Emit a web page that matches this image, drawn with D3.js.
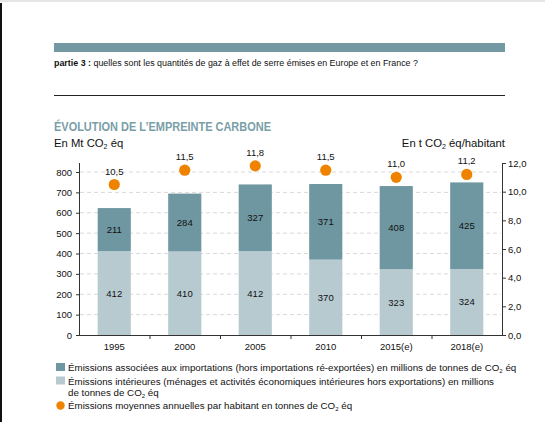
<!DOCTYPE html>
<html>
<head>
<meta charset="utf-8">
<script src="https://cdn.jsdelivr.net/npm/d3@7"></script>
<style>
  html, body { margin: 0; padding: 0; background: #fff; }
  svg { display: block; font-family: "Liberation Sans", Arial, sans-serif; }
</style>
</head>
<body>
<div id="chart"></div>
<script>
const years = ["1995", "2000", "2005", "2010", "2015(e)", "2018(e)"];
const domestic = [412, 410, 412, 370, 323, 324];
const imports = [211, 284, 327, 371, 408, 425];
const perCapita = [10.5, 11.5, 11.8, 11.5, 11.0, 11.2];
const leftTicks = [0, 100, 200, 300, 400, 500, 600, 700, 800];
const rightTicks = [0, 2, 4, 6, 8, 10, 12];

const W = 545, H = 422;
const C = { dark: "#6f97a1", light: "#b7cad0", orange: "#ef8300", title: "#7a9ea8", grid: "#d9d9d9" };
const fmt = v => v.toFixed(1).replace(".", ",");

const svg = d3.select("#chart").append("svg")
    .attr("width", W).attr("height", H)
    .attr("viewBox", [0, 0, W, H]);

// page edge
svg.append("rect").attr("x", 0).attr("y", 0).attr("width", W).attr("height", 2).attr("fill", "#e6e6e6");
svg.append("rect").attr("x", 0).attr("y", 3).attr("width", 2).attr("height", H - 3).attr("fill", "#111");

// header band
svg.append("rect").attr("x", 54).attr("y", 43).attr("width", 451).attr("height", 9).attr("fill", "#7399a3");
const head = svg.append("text").attr("x", 54).attr("y", 66).attr("font-size", 8.9).attr("fill", "#111");
head.append("tspan").attr("font-weight", "bold").text("partie 3 : ");
head.append("tspan").text("quelles sont les quantités de gaz à effet de serre émises en Europe et en France ?");
svg.append("line").attr("x1", 54).attr("x2", 505).attr("y1", 95.5).attr("y2", 95.5).attr("stroke", "#222").attr("stroke-width", 1);

// title
svg.append("text").attr("x", 54).attr("y", 131).attr("font-size", 12).attr("font-weight", "bold")
    .attr("textLength", 217).attr("lengthAdjust", "spacingAndGlyphs")
    .attr("fill", C.title).text("ÉVOLUTION DE L’EMPREINTE CARBONE");

function co2(sel, before, after) {
    sel.append("tspan").text(before + "CO");
    sel.append("tspan").attr("font-size", "0.62em").attr("dy", 2).text("2");
    sel.append("tspan").attr("dy", -2).text(after);
    return sel;
}
co2(svg.append("text").attr("x", 54).attr("y", 147).attr("font-size", 11.3).attr("fill", "#111"), "En Mt ", " éq");
co2(svg.append("text").attr("x", 505).attr("y", 147).attr("font-size", 11.3).attr("fill", "#111")
    .attr("text-anchor", "end"), "En t ", " éq/habitant");

// scales
const x = d3.scaleBand().domain(years).range([79, 502]).paddingInner(0.53).paddingOuter(0.265);
const band = d3.scaleBand().domain(years).range([79, 502]);
const y = d3.scaleLinear().domain([0, 800]).range([335, 172]);
const yR = d3.scaleLinear().domain([0, 12]).range([335, 163]);

// grid
svg.append("g").selectAll("line").data(leftTicks.filter(d => d > 0)).join("line")
    .attr("x1", 80).attr("x2", 501)
    .attr("y1", d => y(d)).attr("y2", d => y(d))
    .attr("stroke", C.grid).attr("stroke-dasharray", "4,3");

// bars
svg.append("g").selectAll("rect").data(years).join("rect")
    .attr("x", d => x(d)).attr("width", x.bandwidth())
    .attr("y", (d, i) => y(domestic[i])).attr("height", (d, i) => y(0) - y(domestic[i]))
    .attr("fill", C.light);
svg.append("g").selectAll("rect").data(years).join("rect")
    .attr("x", d => x(d)).attr("width", x.bandwidth())
    .attr("y", (d, i) => y(domestic[i] + imports[i])).attr("height", (d, i) => y(domestic[i]) - y(domestic[i] + imports[i]))
    .attr("fill", C.dark);

// bar values
const vals = svg.append("g").attr("font-size", 9.5).attr("fill", "#111").attr("text-anchor", "middle");
vals.selectAll(".dom").data(years).join("text")
    .attr("x", d => x(d) + x.bandwidth() / 2)
    .attr("y", (d, i) => y(domestic[i] / 2) + 3.5)
    .text((d, i) => domestic[i]);
vals.selectAll(".imp").data(years).join("text")
    .attr("x", d => x(d) + x.bandwidth() / 2)
    .attr("y", (d, i) => y(domestic[i] + imports[i] / 2) + 3.5)
    .text((d, i) => imports[i]);

// per capita dots
svg.append("g").selectAll("circle").data(years).join("circle")
    .attr("cx", d => x(d) + x.bandwidth() / 2)
    .attr("cy", (d, i) => yR(perCapita[i]))
    .attr("r", 5.6).attr("fill", C.orange);
vals.selectAll(".pc").data(years).join("text")
    .attr("x", d => x(d) + x.bandwidth() / 2)
    .attr("y", (d, i) => yR(perCapita[i]) - 10)
    .text((d, i) => fmt(perCapita[i]));

// axes
const axisStyle = g => {
    g.selectAll("text").attr("font-size", 9.5).attr("fill", "#111").attr("font-family", null);
    g.selectAll("line,path").attr("stroke", "#333");
};
svg.append("g").attr("transform", "translate(79,0)")
    .call(d3.axisLeft(y).tickValues(leftTicks).tickSize(3).tickPadding(4))
    .call(g => g.select(".domain").remove())
    .call(axisStyle);
svg.append("line").attr("x1", 79.5).attr("x2", 79.5).attr("y1", yR(12)).attr("y2", y(0)).attr("stroke", "#333");

svg.append("g").attr("transform", "translate(502,0)")
    .call(d3.axisRight(yR).tickValues(rightTicks).tickFormat(fmt).tickSize(4).tickPadding(2))
    .call(axisStyle);

const xAxis = svg.append("g").attr("transform", `translate(0,${y(0)})`);
xAxis.append("line").attr("x1", 76).attr("x2", 502).attr("y1", 0.5).attr("y2", 0.5).attr("stroke", "#333");
xAxis.selectAll(".tk").data(years.slice(1)).join("line")
    .attr("x1", d => band(d) + 0.5).attr("x2", d => band(d) + 0.5)
    .attr("y1", 0).attr("y2", 4).attr("stroke", "#333");
xAxis.selectAll("text").data(years).join("text")
    .attr("x", d => x(d) + x.bandwidth() / 2).attr("y", 15)
    .attr("text-anchor", "middle").attr("font-size", 9.5).attr("fill", "#111")
    .text(d => d);

// legend
const lg = svg.append("g").attr("font-size", 9.75).attr("fill", "#111");
lg.append("rect").attr("x", 56).attr("y", 363).attr("width", 9).attr("height", 8).attr("fill", C.dark);
co2(lg.append("text").attr("x", 68).attr("y", 371),
    "Émissions associées aux importations (hors importations ré-exportées) en millions de tonnes de ", " éq");
lg.append("rect").attr("x", 56).attr("y", 376.5).attr("width", 9).attr("height", 8).attr("fill", C.light);
lg.append("text").attr("x", 68).attr("y", 384.5)
    .text("Émissions intérieures (ménages et activités économiques intérieures hors exportations) en millions");
co2(lg.append("text").attr("x", 68).attr("y", 395.5), "de tonnes de ", " éq");
lg.append("circle").attr("cx", 60.5).attr("cy", 405.5).attr("r", 4.2).attr("fill", C.orange);
co2(lg.append("text").attr("x", 68).attr("y", 409),
    "Émissions moyennes annuelles par habitant en tonnes de ", " éq");
</script>
</body>
</html>
